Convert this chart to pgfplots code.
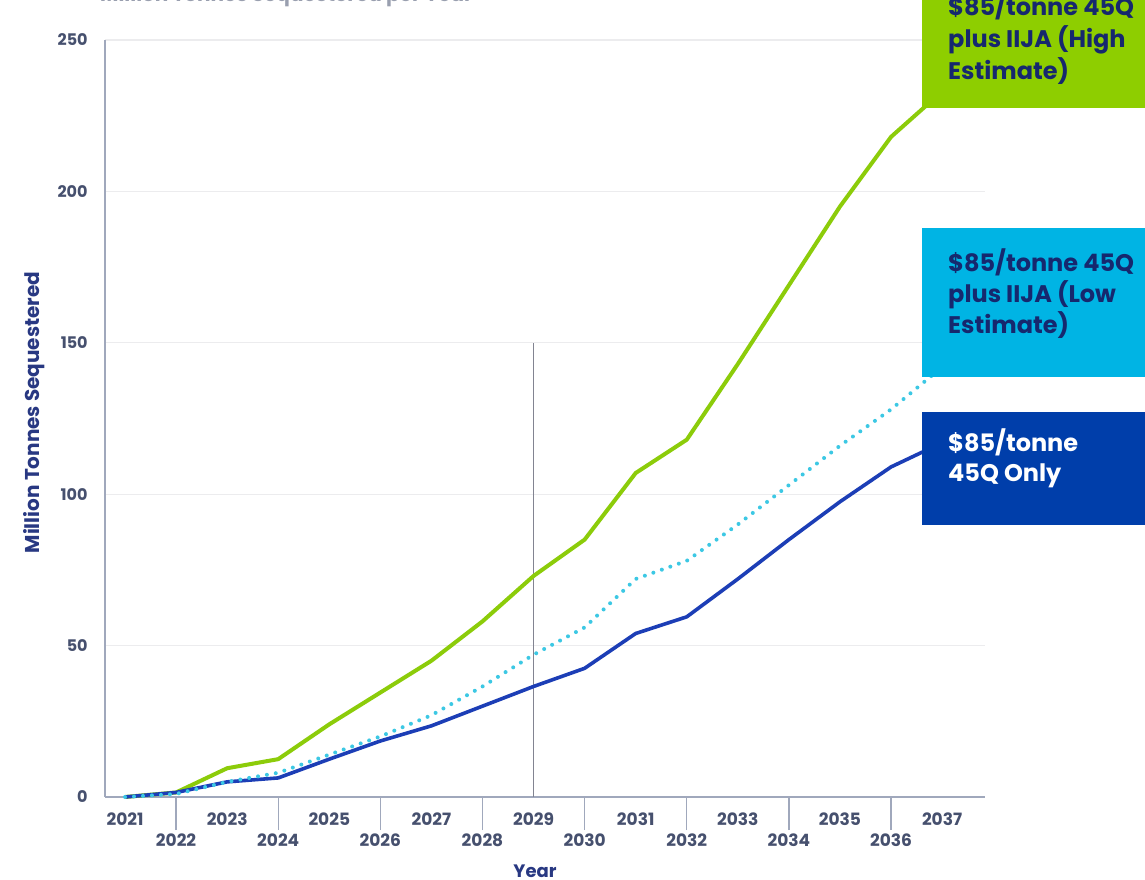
\documentclass[border=0pt]{standalone}
\usepackage{pgfplots}
\pgfplotsset{compat=1.18}
\usepackage{fontspec}
\setmainfont{Poppins}
\definecolor{greenc}{RGB}{140,204,10}
\definecolor{greenbox}{RGB}{142,206,0}
\definecolor{lbluec}{RGB}{60,200,228}
\definecolor{lbluebox}{RGB}{0,180,228}
\definecolor{dbluec}{RGB}{28,62,182}
\definecolor{dbluebox}{RGB}{0,62,170}
\definecolor{navy}{RGB}{22,40,110}
\definecolor{ticklab}{RGB}{70,80,110}
\definecolor{ylab}{RGB}{40,56,130}
\definecolor{axisc}{RGB}{160,168,188}
\definecolor{gridc}{RGB}{236,236,238}
\definecolor{vlinec}{RGB}{130,132,145}
\begin{document}
\begin{tikzpicture}[x=1pt,y=1pt]
\clip (0,0) rectangle (1145,880);
\fill[white] (0,0) rectangle (1145,880);
\begin{axis}[
  at={(105pt,83pt)}, anchor=south west,
  scale only axis, width=880pt, height=757pt,
  xmin=2020.608, xmax=2037.84, ymin=0, ymax=250,
  axis lines=left,
  axis line style={-, draw=axisc, line width=1.3pt},
  /pgf/number format/assume math mode=true,
  ytick={0,50,...,250},
  ytick style={draw=none},
  ymajorgrids,
  major grid style={draw=gridc, line width=1.2pt},
  yticklabel style={font=\fontsize{16}{16}\selectfont\bfseries, text=ticklab, xshift=19pt},
  xtick={2022,2024,...,2036},
  xticklabels={2022,2024,2026,2028,2030,2032,2034,2036},
  tick align=outside,
  x tick style={draw=axisc, line width=1.3pt},
  major tick length=33pt,
  xticklabel style={font=\fontsize{17}{17}\selectfont\bfseries, text=ticklab},
  extra x ticks={2021,2023,...,2037},
  extra x tick labels={2021,2023,2025,2027,2029,2031,2033,2035,2037},
  extra x tick style={major tick length=0pt, tick label style={yshift=-12pt}},
  ylabel={\fontsize{20}{20}\selectfont\bfseries Million Tonnes Sequestered},
  ylabel style={text=ylab, at={(axis description cs:0,0.5)}, xshift=6pt, yshift=57pt},
  clip=false,
]
\addplot[draw=vlinec, line width=1.3pt] coordinates {(2029,0) (2029,150)};
\addplot[draw=greenc, line width=4pt, line join=round] coordinates {
(2021,0) (2022,1.5) (2023,9.5) (2024,12.5) (2025,24) (2026,34.5) (2027,45) (2028,58) (2029,73) (2030,85) (2031,107) (2032,118) (2033,143) (2034,169) (2035,195) (2036,218) (2037,233)};
\addplot[draw=dbluec, line width=3.6pt, line join=round] coordinates {
(2021,0) (2022,1.5) (2023,5) (2024,6.3) (2025,12.5) (2026,18.5) (2027,23.5) (2028,30) (2029,36.5) (2030,42.5) (2031,54) (2032,59.5) (2033,72) (2034,85) (2035,97.5) (2036,109) (2037,117)};
\addplot[draw=lbluec, line width=4pt, line cap=round, dash pattern=on 0pt off 9pt] coordinates {
(2021,0) (2022,1) (2023,5) (2024,8) (2025,14) (2026,20) (2027,27) (2028,36.5) (2029,47) (2030,56) (2031,72) (2032,78) (2033,90) (2034,103) (2035,116) (2036,128) (2037,142)};
\end{axis}
% label boxes
\fill[greenbox] (922,772) rectangle (1160,900);
\fill[lbluebox] (922,503) rectangle (1160,652);
\fill[dbluebox] (922,355) rectangle (1160,468);
\begin{scope}[every node/.style={anchor=base west, inner sep=0pt, font=\fontsize{24}{24}\selectfont\bfseries}]
\node[text=navy] at (948,864) {\$85/tonne 45Q};
\node[text=navy] at (948,832) {plus IIJA (High};
\node[text=navy] at (948,800) {Estimate)};
\node[text=navy] at (948,608) {\$85/tonne 45Q};
\node[text=navy] at (948,577) {plus IIJA (Low};
\node[text=navy] at (948,546) {Estimate)};
\node[text=white] at (948,428) {\$85/tonne};
\node[text=white] at (948,398) {45Q Only};
\end{scope}
\node[anchor=north, inner sep=0pt, text=ylab, font=\fontsize{18}{18}\selectfont\bfseries] at (535,15) {Year};
\node[anchor=base west, inner sep=0pt, text=ticklab!55, font=\fontsize{20}{20}\selectfont\bfseries] at (100,878) {Million Tonnes Sequestered per Year};
\end{tikzpicture}
\end{document}
